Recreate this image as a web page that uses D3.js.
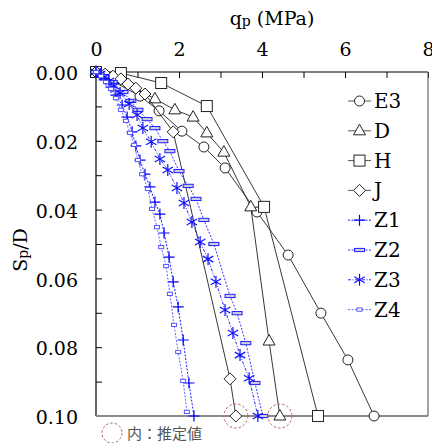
<!DOCTYPE html>
<html><head><meta charset="utf-8">
<script src="https://cdn.jsdelivr.net/npm/d3@7"></script>
<style>body{margin:0;background:#fff}svg{display:block}</style>
</head><body>
<svg id="c" width="432" height="443"></svg>
<script>
// ---- data ----
const xTicks = [0,1,2,3,4,5,6,7,8];
const xLabels = ["0","","2","","4","","6","","8"];
const yTicks = [0,0.01,0.02,0.03,0.04,0.05,0.06,0.07,0.08,0.09,0.10];
const yLabels = ["0.00","","0.02","","0.04","","0.06","","0.08","","0.10"];
const seriesNames = ["E3","D","H","J","Z1","Z2","Z3","Z4"];

const e3Q = [0,1.06,1.52,2.07,2.60,3.11,3.88,4.63,5.42,6.07,6.70];
const e3S = [0,0.0070,0.0113,0.0172,0.0218,0.0279,0.0407,0.0532,0.0701,0.0837,0.1000];
const dQ  = [0,0.50,1.42,1.90,2.34,2.67,3.08,3.73,4.17,4.43];
const dS  = [0,0.0020,0.0078,0.0110,0.0131,0.0177,0.0233,0.0392,0.0782,0.1000];
const hQ  = [0,0.60,1.57,2.67,4.05,5.35];
const hS  = [0,0.0003,0.0032,0.0099,0.0392,0.1000];
const jQ  = [0,0.22,0.41,0.60,0.77,0.96,1.18,1.86,3.23,3.37];
const jS  = [0,0.0006,0.0012,0.0020,0.0035,0.0047,0.0064,0.0174,0.0892,0.1000];
const z1Q = [0,0.12,0.24,0.36,0.48,0.63,0.75,0.87,0.96,1.06,1.18,1.30,1.42,1.54,1.64,1.76,1.86,1.98,2.10,2.24,2.36];
const z1S = [0,0.0009,0.0023,0.0044,0.0067,0.0096,0.0131,0.0174,0.0215,0.0256,0.0297,0.0334,0.0378,0.0413,0.0468,0.0538,0.0610,0.0683,0.0779,0.0904,0.1000];
const z2Q = [0,0.19,0.39,0.65,0.84,1.01,1.23,1.42,1.61,1.78,2.00,2.22,2.41,2.60,2.84,3.23,3.40,3.61,3.83,4.02];
const z2S = [0,0.0012,0.0029,0.0058,0.0084,0.0110,0.0137,0.0163,0.0201,0.0230,0.0288,0.0331,0.0369,0.0430,0.0500,0.0651,0.0701,0.0788,0.0904,0.1000];
const z3Q = [0,0.10,0.19,0.31,0.43,0.58,0.80,0.99,1.13,1.33,1.54,1.73,1.95,2.12,2.31,2.51,2.70,2.89,3.11,3.30,3.47,3.69,3.90];
const z3S = [0,0.0006,0.0015,0.0026,0.0041,0.0061,0.0093,0.0125,0.0163,0.0203,0.0253,0.0285,0.0337,0.0381,0.0436,0.0494,0.0544,0.0610,0.0692,0.0759,0.0823,0.0890,0.1000];
const z4Q = [0,0.12,0.24,0.36,0.48,0.60,0.72,0.82,0.92,1.01,1.11,1.25,1.35,1.47,1.57,1.69,1.78,1.88,1.98,2.10,2.19];
const z4S = [0,0.0012,0.0029,0.0049,0.0076,0.0110,0.0142,0.0177,0.0212,0.0256,0.0297,0.0340,0.0398,0.0451,0.0509,0.0564,0.0645,0.0735,0.0814,0.0898,0.0988];
const estQ = [3.37,4.43];
const estS = [0.1000,0.1000];
const noteText = "内：推定値";

// ---- drawing ----
const SERIF = "DejaVu Serif";
const FS = 19;
const svg = d3.select("#c");
const x = d3.scaleLinear().domain([0,8]).range([96,428]);
const y = d3.scaleLinear().domain([0,0.1]).range([72,416]);

// axes
const gx = svg.append("g").attr("transform","translate(0,72)")
  .call(d3.axisTop(x).tickValues(xTicks).tickSize(-6).tickPadding(16)
    .tickFormat((d,i)=>xLabels[i]));
const gy = svg.append("g").attr("transform","translate(96,0)")
  .call(d3.axisLeft(y).tickValues(yTicks).tickSize(-6).tickPadding(18)
    .tickFormat((d,i)=>yLabels[i]));
[gx,gy].forEach(g=>{
  g.attr("font-family",SERIF).attr("font-size",FS);
  g.selectAll("text").attr("fill","#000");
  g.selectAll("line").attr("stroke","#000");
  g.select(".domain").attr("stroke","#000").attr("stroke-width",1.2);
});
gy.selectAll("text").attr("dy","0.4em");
gx.select(".domain").attr("d",`M96,0H428`);
gy.select(".domain").attr("d",`M0,72V416`);
// frame right & bottom
svg.append("line").attr("x1",x(8)).attr("x2",x(8)).attr("y1",y(0)).attr("y2",y(0.1))
  .attr("stroke","#666").attr("stroke-width",1.2);
svg.append("line").attr("x1",x(0)).attr("x2",x(8)).attr("y1",y(0.1)).attr("y2",y(0.1))
  .attr("stroke","#8a8a8a").attr("stroke-width",2.2);

// axis titles
const tx = svg.append("text").attr("x",272).attr("y",25).attr("text-anchor","middle")
  .attr("font-family",SERIF).attr("font-size",FS);
tx.append("tspan").text("q");
tx.append("tspan").attr("font-size",14).attr("dy",1).text("p");
tx.append("tspan").attr("dy",-1).text(" (MPa)");
const ty = svg.append("text").attr("transform","translate(27,250) rotate(-90)")
  .attr("text-anchor","middle").attr("font-family",SERIF).attr("font-size",FS);
ty.append("tspan").text("S");
ty.append("tspan").attr("font-size",14).attr("dy",1).text("p");
ty.append("tspan").attr("dy",-1).text("/D");

// marker shapes
function marker(g, type, color){
  const sw = 1;
  switch(type){
    case "circle": g.append("circle").attr("r",5).attr("fill","#fff").attr("stroke","#222").attr("stroke-width",sw); break;
    case "triangle": g.append("path").attr("d","M0,-6.5L6,4L-6,4Z").attr("fill","#fff").attr("stroke","#222").attr("stroke-width",sw); break;
    case "square": g.append("rect").attr("x",-5.5).attr("y",-5.5).attr("width",11).attr("height",11).attr("fill","#fff").attr("stroke","#222").attr("stroke-width",sw); break;
    case "diamond": g.append("path").attr("d","M0,-6L6,0L0,6L-6,0Z").attr("fill","#fff").attr("stroke","#222").attr("stroke-width",sw); break;
    case "plus": g.append("path").attr("d","M-5.5,0H5.5M0,-5.5V5.5").attr("stroke",color).attr("stroke-width",1.2).attr("fill","none"); break;
    case "star": g.append("path").attr("d","M0,-6V6M-5.2,-3L5.2,3M-5.2,3L5.2,-3").attr("stroke",color).attr("stroke-width",1.2).attr("fill","none"); break;
    case "rectW": g.append("rect").attr("x",-5).attr("y",-1.6).attr("width",10).attr("height",3.2).attr("fill","#ccd").attr("stroke",color).attr("stroke-width",1); break;
    case "rectS": g.append("rect").attr("x",-2.5).attr("y",-1.6).attr("width",5).attr("height",3.2).attr("fill","#fff").attr("stroke",color).attr("stroke-width",1); break;
  }
}

const series = [
  {name:"E3", q:e3Q, s:e3S, type:"circle", color:"#222", dash:null},
  {name:"D",  q:dQ,  s:dS,  type:"triangle", color:"#222", dash:null},
  {name:"H",  q:hQ,  s:hS,  type:"square", color:"#222", dash:null},
  {name:"J",  q:jQ,  s:jS,  type:"diamond", color:"#222", dash:null},
  {name:"Z1", q:z1Q, s:z1S, type:"plus", color:"#0000ff", dash:"2,1.5"},
  {name:"Z2", q:z2Q, s:z2S, type:"rectW", color:"#2020ff", dash:"2,1.5"},
  {name:"Z3", q:z3Q, s:z3S, type:"star", color:"#1010ff", dash:"3,1.5,1,1.5"},
  {name:"Z4", q:z4Q, s:z4S, type:"rectS", color:"#5555ff", dash:"2,1.5"}
];

const line = d3.line().x(d=>x(d[0])).y(d=>y(d[1]));
series.forEach(sr=>{
  const pts = sr.q.map((q,i)=>[q,sr.s[i]]);
  const g = svg.append("g");
  g.append("path").attr("d",line(pts)).attr("fill","none")
    .attr("stroke", sr.color).attr("stroke-width", 0.9)
    .attr("stroke-dasharray", sr.dash);
  pts.forEach(p=>{
    const m = g.append("g").attr("transform",`translate(${x(p[0])},${y(p[1])})`);
    marker(m, sr.type, sr.color);
  });
});

// estimated-value circles
estQ.forEach((q,i)=>{
  svg.append("circle").attr("cx",x(q)).attr("cy",y(estS[i])).attr("r",12)
    .attr("fill","none").attr("stroke","#b06060").attr("stroke-width",1)
    .attr("stroke-dasharray","2.5,2");
});
svg.append("circle").attr("cx",112).attr("cy",433).attr("r",10)
  .attr("fill","none").attr("stroke","#b06060").attr("stroke-width",1)
  .attr("stroke-dasharray","2.5,2");
svg.append("text").attr("x",127).attr("y",439).attr("font-family","Noto Sans CJK JP")
  .attr("font-size",15).attr("fill","#555").text(noteText);

// legend
series.forEach((sr,i)=>{
  const ly = 101 + i*29.8;
  const g = svg.append("g");
  g.append("line").attr("x1",348).attr("x2",371).attr("y1",ly).attr("y2",ly)
    .attr("stroke", sr.dash? sr.color : "#444").attr("stroke-width",0.9).attr("stroke-dasharray",sr.dash);
  const m = g.append("g").attr("transform",`translate(359.5,${ly})`);
  marker(m, sr.type, sr.color);
  g.append("text").attr("x",374).attr("y",ly+7).attr("font-family",SERIF)
    .attr("font-size",FS+1).text(sr.name);
});
</script>
</body></html>
